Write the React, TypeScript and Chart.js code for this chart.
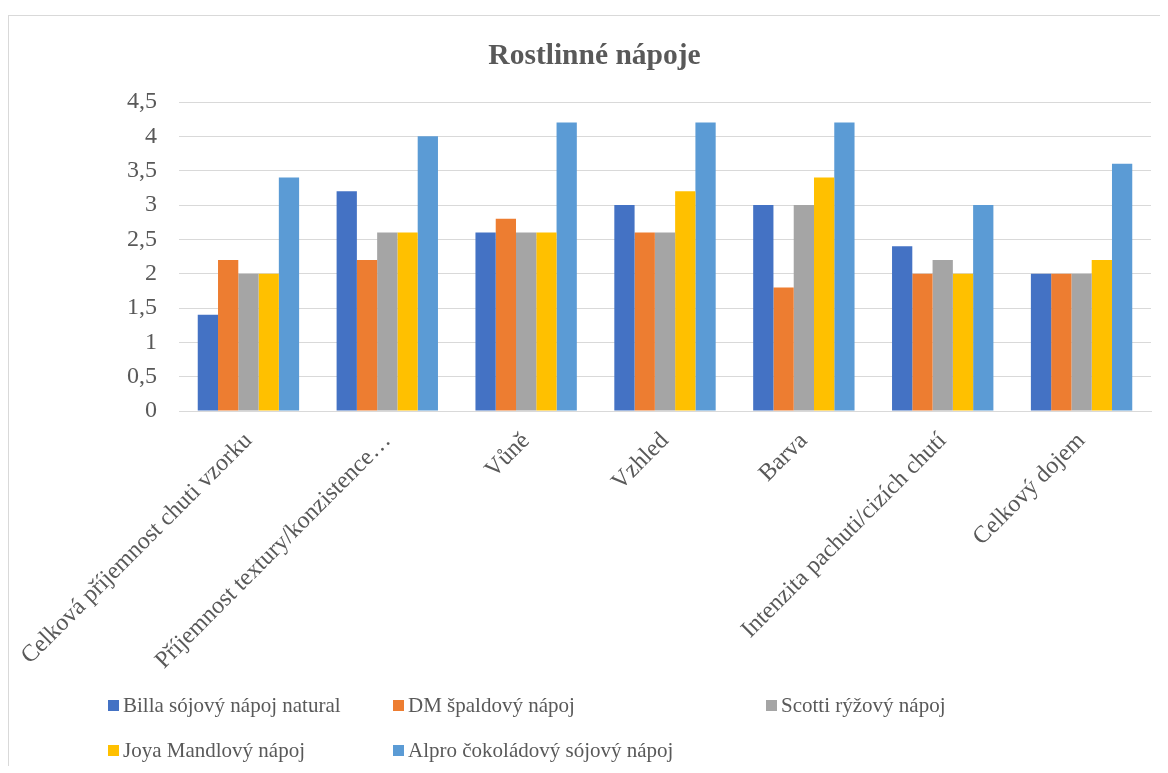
import React, { useEffect, useRef } from "react";
import { Chart, registerables } from "chart.js";

Chart.register(...registerables);

// Sensory ratings of plant-based drinks
const categories = [
  "Celková příjemnost chuti vzorku",
  "Příjemnost textury/konzistence…",
  "Vůně",
  "Vzhled",
  "Barva",
  "Intenzita pachuti/cizích chutí",
  "Celkový dojem",
];

const seriesNames = [
  "Billa sójový nápoj natural",
  "DM špaldový nápoj",
  "Scotti rýžový nápoj",
  "Joya Mandlový nápoj",
  "Alpro čokoládový sójový nápoj",
];

const billa = [1.4, 3.2, 2.6, 3.0, 3.0, 2.4, 2.0];
const dm = [2.2, 2.2, 2.8, 2.6, 1.8, 2.0, 2.0];
const scotti = [2.0, 2.6, 2.6, 2.6, 3.0, 2.2, 2.0];
const joya = [2.0, 2.6, 2.6, 3.2, 3.4, 2.0, 2.2];
const alpro = [3.4, 4.0, 4.2, 4.2, 4.2, 3.0, 3.6];

const seriesValues = [billa, dm, scotti, joya, alpro];
const seriesColors = ["#4472C4", "#ED7D31", "#A5A5A5", "#FFC000", "#5B9BD5"];

const yMin = 0;
const yMax = 4.5;
const yStep = 0.5;

const FONT = "'Times New Roman', 'Liberation Serif', serif";
const TEXT = "#595959";
const GRID = "#d9d9d9";

const CANVAS_W = 1159;
const CANVAS_H = 757;

export default function App() {
  const canvasRef = useRef<HTMLCanvasElement | null>(null);

  useEffect(() => {
    const prevOverflow = document.body.style.overflow;
    document.body.style.overflow = "hidden";
    const canvas = canvasRef.current;
    if (!canvas) return;
    const chart = new Chart(canvas, {
      type: "bar",
      data: {
        labels: categories,
        datasets: seriesNames.map((name, i) => ({
          label: name,
          data: seriesValues[i],
          backgroundColor: seriesColors[i],
          borderWidth: 0,
          categoryPercentage: 0.73,
          barPercentage: 1,
        })),
      },
      options: {
        animation: false,
        responsive: false,
        layout: { padding: { left: 29, right: 17, top: 0, bottom: 0 } },
        plugins: {
          legend: { display: false },
          tooltip: { enabled: false },
          title: {
            display: true,
            text: "Rostlinné nápoje",
            color: TEXT,
            font: { family: FONT, size: 29.5, weight: "bold" },
            padding: { top: 23, bottom: 27.6 },
          },
        },
        scales: {
          x: {
            grid: { display: false, drawTicks: false },
            border: { display: true, color: GRID, width: 1 },
            ticks: {
              color: TEXT,
              font: { family: FONT, size: 24 },
              minRotation: 45,
              maxRotation: 45,
              autoSkip: false,
              padding: 16,
            },
            afterFit: (scale: any) => {
              scale.height = CANVAS_H - 395;
              // rotated labels may overhang the plot edges freely
              scale.paddingLeft = 0;
              scale.paddingRight = 0;
            },
          },
          y: {
            min: yMin,
            max: yMax,
            grid: { color: GRID, lineWidth: 1, drawTicks: false },
            border: { display: false },
            ticks: {
              stepSize: yStep,
              color: TEXT,
              font: { family: FONT, size: 24 },
              padding: 22,
              callback: (v: any) => String(v).replace(".", ","),
            },
            afterFit: (scale: any) => {
              scale.width = 141;
            },
          },
        },
      },
    });
    return () => {
      chart.destroy();
      document.body.style.overflow = prevOverflow;
    };
  }, []);

  const legendLeft = [99, 384, 757];
  const legendTop = [677, 722];

  return (
    <div
      style={{
        position: "relative",
        top: 7,
        width: 1160,
        height: 758,
        borderTop: `1px solid ${GRID}`,
        borderLeft: `1px solid ${GRID}`,
        boxSizing: "border-box",
        background: "#fff",
      }}
    >
      <canvas
        ref={canvasRef}
        width={CANVAS_W}
        height={CANVAS_H}
        style={{ position: "absolute", left: 0, top: 0, width: CANVAS_W, height: CANVAS_H }}
      />
      {seriesNames.map((name, i) => (
        <div
          key={name}
          style={{
            position: "absolute",
            left: legendLeft[i % 3],
            top: legendTop[Math.floor(i / 3)],
            display: "flex",
            alignItems: "center",
            fontFamily: FONT,
            fontSize: 21,
            lineHeight: "24px",
            color: TEXT,
            whiteSpace: "nowrap",
          }}
        >
          <span
            style={{
              display: "inline-block",
              width: 11,
              height: 11,
              background: seriesColors[i],
              marginRight: 4,
            }}
          />
          {name}
        </div>
      ))}
    </div>
  );
}
